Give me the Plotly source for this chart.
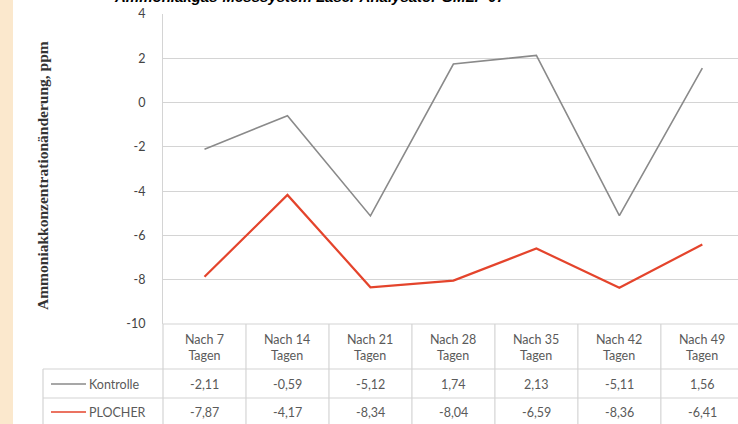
import plotly.graph_objects as go

categories = ["Nach 7 Tagen", "Nach 14 Tagen", "Nach 21 Tagen", "Nach 28 Tagen",
              "Nach 35 Tagen", "Nach 42 Tagen", "Nach 49 Tagen"]
kontrolle = [-2.11, -0.59, -5.12, 1.74, 2.13, -5.11, 1.56]
plocher = [-7.87, -4.17, -8.34, -8.04, -6.59, -8.36, -6.41]
series_names = ["Kontrolle", "PLOCHER"]
series_colors = ["#8a8a8a", "#e4442c"]
y_ticks = [4, 2, 0, -2, -4, -6, -8, -10]

W, H = 738, 424
ML, MT, MB = 163, 14, 100
PH = H - MT - MB

def py(pix):
    """pixel y from top -> paper y"""
    return 1 - (pix - MT) / PH

def px(pix):
    return (pix - ML) / (W - ML)

xs = list(range(len(categories)))
fig = go.Figure()
for name, vals, col, w in zip(series_names, [kontrolle, plocher], series_colors, [1.6, 2.2]):
    fig.add_trace(go.Scatter(x=xs, y=vals, mode="lines", name=name,
                             line=dict(color=col, width=w), showlegend=False))

grid = "#d4d4d4"
shapes = []
annotations = []
font_cell = dict(family="Lato, Open Sans, sans-serif", size=12.5, color="#5a5a5a")

# table horizontal lines
row_tops = [324, 369, 398]
for i, yy in enumerate(row_tops):
    x0 = ML if i == 0 else 43
    shapes.append(dict(type="line", xref="paper", yref="paper", x0=px(x0), x1=1,
                       y0=py(yy), y1=py(yy), line=dict(color=grid, width=1.2)))
# left border of row-label block
shapes.append(dict(type="line", xref="paper", yref="paper", x0=px(43), x1=px(43),
                   y0=py(369), y1=py(430), line=dict(color=grid, width=1.2)))
# vertical column lines
shapes.append(dict(type="line", xref="paper", yref="paper", x0=0, x1=0,
                   y0=py(324), y1=py(430), line=dict(color=grid, width=1.2)))
for k in range(len(categories)):
    shapes.append(dict(type="line", xref="x", yref="paper", x0=k + 0.5, x1=k + 0.5,
                       y0=py(324), y1=py(430), line=dict(color=grid, width=1.2)))

# header texts
for k, c in enumerate(categories):
    a, b = c.rsplit(" ", 1)
    annotations.append(dict(x=k, y=py(347), xref="x", yref="paper", text=a + "<br>" + b,
                            showarrow=False, font=font_cell, xanchor="center", yanchor="middle"))
# row values
for r, (name, vals, col) in enumerate(zip(series_names, [kontrolle, plocher], series_colors)):
    ymid = [384, 412][r]
    shapes.append(dict(type="line", xref="paper", yref="paper", x0=px(51), x1=px(86),
                       y0=py(ymid), y1=py(ymid), line=dict(color=col, width=1.6)))
    annotations.append(dict(x=px(87), y=py(ymid), xref="paper", yref="paper", text=name,
                            showarrow=False, font=font_cell, xanchor="left", yanchor="middle"))
    for k, v in enumerate(vals):
        annotations.append(dict(x=k, y=py(ymid), xref="x", yref="paper",
                                text=f"{v:.2f}".replace(".", ","),
                                showarrow=False, font=font_cell, xanchor="center", yanchor="middle"))

# left peach strip
shapes.append(dict(type="rect", xref="paper", yref="paper", x0=px(0), x1=px(13),
                   y0=py(H + 5), y1=py(-5), fillcolor="#fbe8cd", line=dict(width=0), layer="below"))

# y axis title
annotations.append(dict(x=px(42), y=py(176), xref="paper", yref="paper",
                        text="<b>Ammoniakkonzentrationänderung, ppm</b>", textangle=-90,
                        showarrow=False, font=dict(family="Liberation Serif, serif", size=15.5, color="#333"),
                        xanchor="center", yanchor="middle"))
# title (partly above the page, as in the reference)
annotations.append(dict(x=px(310), y=py(7), xref="paper", yref="paper",
                        text="<b><i>Ammoniakgas-Messsystem Laser Analysator GMLP 07</i></b>",
                        showarrow=False, font=dict(family="Liberation Sans, Arial", size=15, color="#000"),
                        xanchor="center", yanchor="bottom"))

fig.update_layout(
    width=W, height=H, margin=dict(l=ML, r=0, t=MT, b=MB),
    paper_bgcolor="white", plot_bgcolor="white",
    shapes=shapes, annotations=annotations,
    xaxis=dict(range=[-0.5, 6.43], showgrid=False, showticklabels=False, zeroline=False,
               showline=False, ticks=""),
    yaxis=dict(range=[-10, 4], tickvals=y_ticks, ticktext=[str(t) for t in y_ticks],
               showgrid=True, gridcolor=grid, gridwidth=1.2, zeroline=False,
               showline=True, linecolor=grid, linewidth=1.2,
               tickfont=dict(family="Lato, Open Sans, sans-serif", size=12.5, color="#444"),
               ticks="", ticklabelstandoff=14),
)
fig.write_html("out.html")
